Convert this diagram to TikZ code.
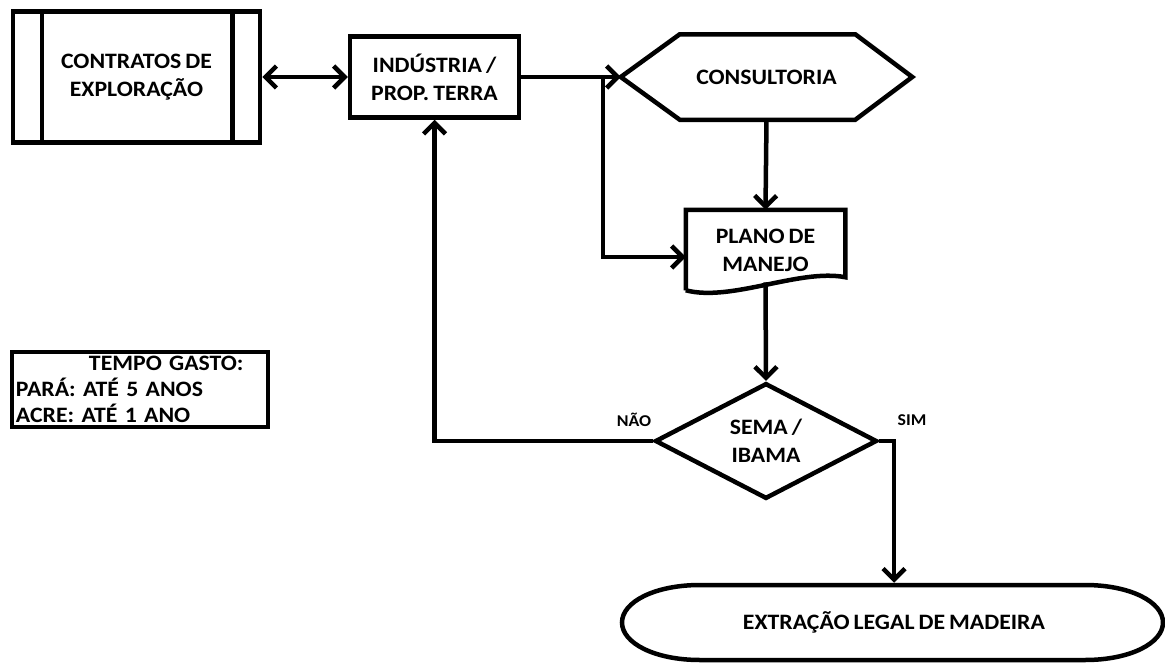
\documentclass[tikz,border=0pt]{standalone}
\usepackage{fontspec}
\setmainfont{Carlito}[FakeStretch=1.08,WordSpace=0.75]
\usetikzlibrary{calc}
\usetikzlibrary{positioning}
\usetikzlibrary{arrows.meta}
\usetikzlibrary{shapes.geometric}
\newcommand*\boxfont{\fontsize{22}{28}\selectfont\bfseries\frenchspacing}
\newcommand*\labelfont{\fontsize{16.5}{18}\selectfont\bfseries}

\begin{document}
\begin{tikzpicture}
    [%
        x=1pt,y=-1pt,%
        line width=4.5pt,%
        barb/.tip={Straight Barb[length=11pt,width=22pt]},%
        step box/.style={%
            draw,%
            line width=4.5pt,%
            align=center,%
            inner sep=0pt,%
            font=\boxfont%
        },%
        plain shape/.style={%
            align=center,%
            inner sep=0pt,%
            font=\boxfont%
        },%
        flow/.style={%
            line width=4.5pt,%
            -barb%
        },%
        both ways/.style={%
            line width=4.5pt,%
            barb-barb%
        },%
        answer/.style={%
            font=\labelfont%
        }%
    ]%
%
    \useasboundingbox (0,0) rectangle (1165,664);
%
    % contracts, with the two side bars
    \node[step box,minimum width=247pt,minimum height=131pt] (contratos)
        at (136.5,77) {CONTRATOS DE\\EXPLORAÇÃO};
    \foreach \corner/\bar in {west/31pt,east/-30pt} {
        \draw ([xshift=\bar]contratos.north \corner)
            -- ([xshift=\bar]contratos.south \corner);
    } % \foreach \corner/\bar
    \node[step box,minimum width=169pt,minimum height=81pt] (industria)
        at (434.5,77) {INDÚSTRIA /\\PROP. TERRA};
%
    % consultancy hexagon
    \node[plain shape,minimum width=287pt,minimum height=81pt] (consultoria)
        at (766.5,77) {CONSULTORIA};
    \draw[line join=miter] (consultoria.west)
        -- ($(consultoria.north west)+(59,0)$)
        -- ($(consultoria.north east)+(-57,0)$)
        -- (consultoria.east)
        -- ($(consultoria.south east)+(-57,0)$)
        -- ($(consultoria.south west)+(59,0)$)
        -- cycle;
%
    % document with the wavy bottom
    \node[plain shape,minimum width=155pt,minimum height=76pt] (plano)
        at (765.5,250) {PLANO DE\\MANEJO};
    \draw[line join=miter] (plano.south west) -- (plano.north west)
        -- (plano.north east) -- ($(plano.south east)+(0,-13)$)
        .. controls ($(plano.south east)+(-45,-22)$)
        and ($(plano.south west)+(45,12)$) .. (plano.south west);
%
    \node[step box,diamond,minimum width=222pt,minimum height=92pt] (sema)
        at (766,441) {SEMA /\\IBAMA};
%
    % terminal
    \node[plain shape,minimum width=541pt,minimum height=75pt] (extracao)
        at (894,622.5) {EXTRAÇÃO LEGAL DE MADEIRA};
    \draw (700,585) -- (1085,585)
        .. controls (1130,585) and (1163,601.8) .. (1163,622.5)
        .. controls (1163,643.2) and (1130,660) .. (1085,660)
        -- (700,660)
        .. controls (655,660) and (622,643.2) .. (622,622.5)
        .. controls (622,601.8) and (655,585) .. cycle;
%
    \node[step box,align=left,text width=248pt,inner xsep=4pt,
        minimum height=75pt] (tempo) at (140,389.5)
        {\hspace*{73pt}TEMPO GASTO:\\[-2pt]PARÁ: ATÉ 5 ANOS\\[-2pt]ACRE: ATÉ 1 ANO};
%
    % connectors
    \coordinate (split) at (603,77);
    \draw[both ways] (contratos.east) -- (industria.west);
    \draw[flow] (industria.east) -- (consultoria.west);
    \draw[flow] (split) |- ([yshift=-7pt]plano.west);
    \draw[flow] (consultoria.south) -- (plano.north);
    \draw[flow] ([yshift=8pt]plano.south) -- (sema.north);
    \draw[flow] (sema.west) -| (industria.south);
    \draw[flow] (sema.east) -| (extracao.north);
%
    % answers
    \node[answer] (nao) at (634,420) {NÃO};
    \node[answer] (sim) at (912,420) {SIM};
\end{tikzpicture}
\end{document}
